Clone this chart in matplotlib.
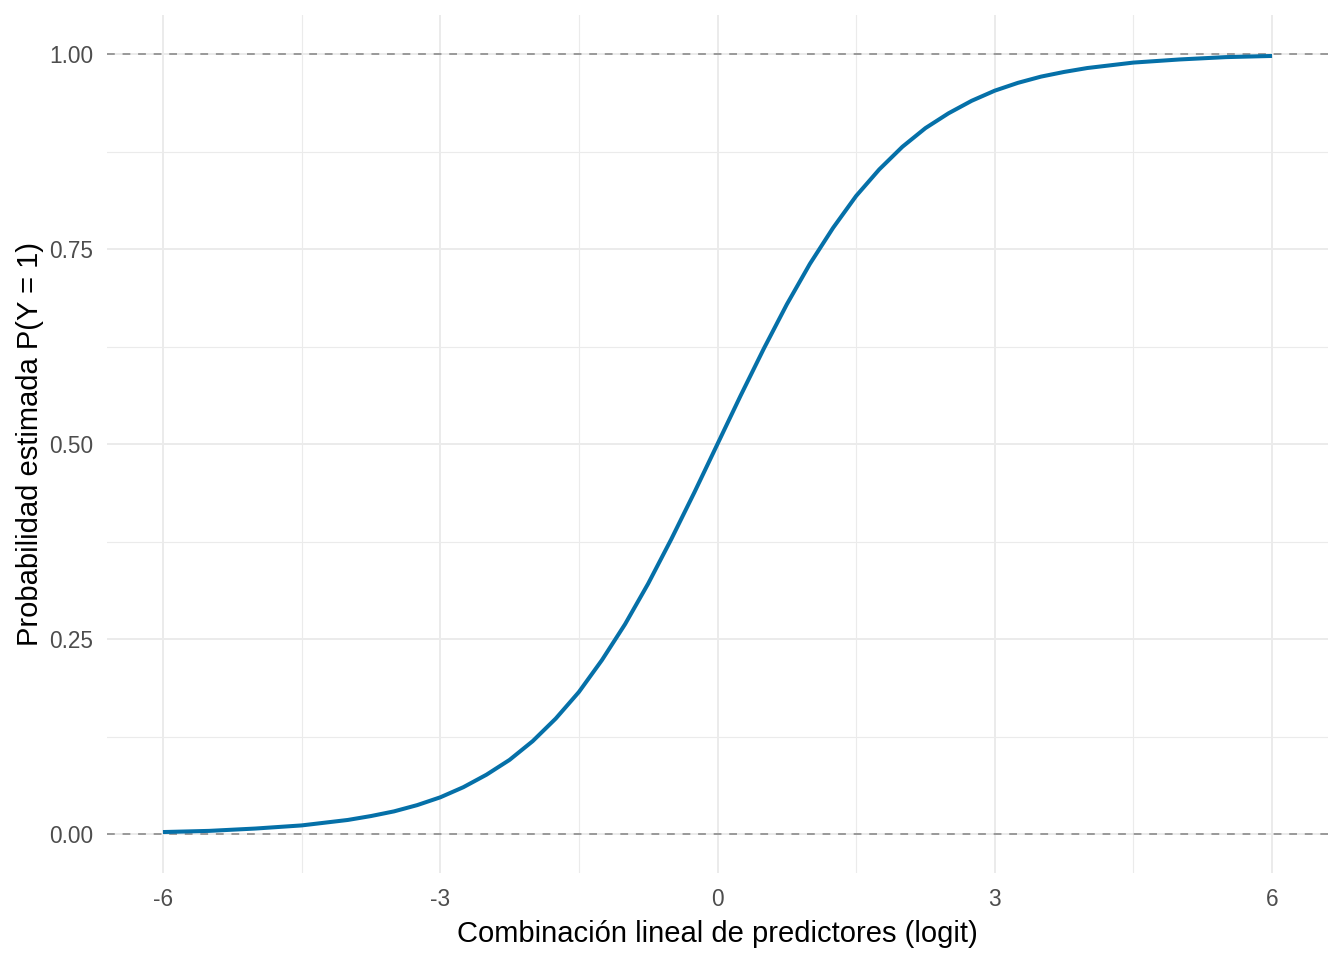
import numpy as np
import matplotlib.pyplot as plt

# valores
logit = [-6.0, -5.5, -5.0, -4.5, -4.0, -3.75, -3.5, -3.25, -3.0, -2.75, -2.5, -2.25,
         -2.0, -1.75, -1.5, -1.25, -1.0, -0.75, -0.5, -0.25, 0.0, 0.25, 0.5, 0.75,
         1.0, 1.25, 1.5, 1.75, 2.0, 2.25, 2.5, 2.75, 3.0, 3.25, 3.5, 3.75, 4.0,
         4.5, 5.0, 5.5, 6.0]
prob = [0.0025, 0.004, 0.007, 0.011, 0.018, 0.023, 0.029, 0.037, 0.047, 0.060, 0.076, 0.095,
        0.119, 0.148, 0.182, 0.223, 0.269, 0.321, 0.378, 0.438, 0.500, 0.562, 0.622, 0.679,
        0.731, 0.777, 0.818, 0.852, 0.881, 0.905, 0.924, 0.940, 0.953, 0.963, 0.971, 0.977, 0.982,
        0.989, 0.993, 0.996, 0.9975]

x_major = [-6, -3, 0, 3, 6]
x_minor = [-4.5, -1.5, 1.5, 4.5]
y_major = [0.0, 0.25, 0.5, 0.75, 1.0]
y_minor = [0.125, 0.375, 0.625, 0.875]

plt.rcParams['font.family'] = ['Liberation Sans', 'DejaVu Sans']

fig = plt.figure(figsize=(13.44, 9.6), dpi=100)
ax = fig.add_axes([107.5 / 1344, 87 / 960, 1220 / 1344, 858 / 960])

for v in x_minor:
    ax.axvline(v, color='#EBEBEB', lw=0.8, zorder=0)
for v in y_minor:
    ax.axhline(v, color='#EBEBEB', lw=0.8, zorder=0)
for v in x_major:
    ax.axvline(v, color='#EBEBEB', lw=1.4, zorder=0)
for v in y_major:
    ax.axhline(v, color='#EBEBEB', lw=1.4, zorder=0)

ax.axhline(0, color='#999999', lw=1.4, ls=(0, (4, 4)), zorder=1)
ax.axhline(1, color='#999999', lw=1.4, ls=(0, (4, 4)), zorder=1)

ax.plot(logit, prob, color='#0570A8', lw=2.9, solid_capstyle='butt',
        solid_joinstyle='round', zorder=2)

ax.set_xlim(-6.6, 6.6)
ax.set_ylim(-0.05, 1.05)
ax.set_xticks(x_major)
ax.set_xticklabels(['-6', '-3', '0', '3', '6'])
ax.set_yticks(y_major)
ax.set_yticklabels(['0.00', '0.25', '0.50', '0.75', '1.00'])
ax.tick_params(length=0, labelsize=16.3, labelcolor='#4D4D4D')
ax.tick_params(axis='x', pad=11)
ax.tick_params(axis='y', pad=10)
for s in ax.spines.values():
    s.set_visible(False)

ax.set_xlabel('Combinación lineal de predictores (logit)', fontsize=21, labelpad=6)
ax.set_ylabel('Probabilidad estimada P(Y = 1)', fontsize=21, labelpad=4)

fig.savefig('out.png', dpi=100)
